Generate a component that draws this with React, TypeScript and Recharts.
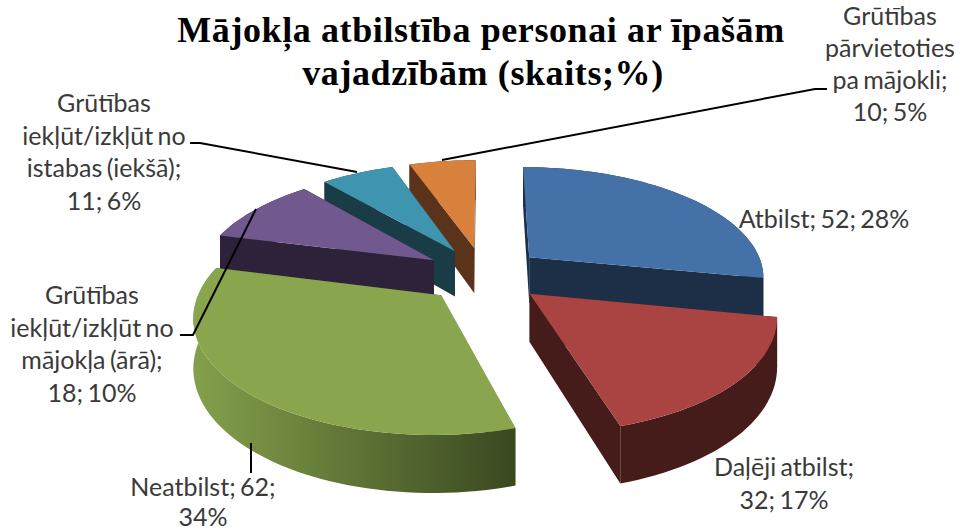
import { Pie, PieChart } from "recharts";

// drawn back to front: the list runs counter-clockwise and starts with Atbilst,
// so that Daļēji atbilst comes last and lies over the blue wall
const categories = [
  "Atbilst",
  "Grūtības pārvietoties pa mājokli",
  "Grūtības iekļūt/izkļūt no istabas (iekšā)",
  "Grūtības iekļūt/izkļūt no mājokļa (ārā)",
  "Neatbilst",
  "Daļēji atbilst",
];
const counts = [52, 10, 11, 18, 62, 32];
const percents = [28, 5, 6, 10, 34, 17];

const labelLines = [
  ["Atbilst; 52; 28%"],
  ["Grūtības", "pārvietoties", "pa mājokli;", "10; 5%"],
  ["Grūtības", "iekļūt/izkļūt no", "istabas (iekšā);", "11; 6%"],
  ["Grūtības", "iekļūt/izkļūt no", "mājokļa (ārā);", "18; 10%"],
  ["Neatbilst; 62;", "34%"],
  ["Daļēji atbilst;", "32; 17%"],
];

const topColors = ["#4472A8", "#D8813C", "#3F95AE", "#71588F", "#89A54E", "#A94442"];
const wallFrom = ["#1C2F47", "#5A331A", "#1A3C46", "#2D2239", "#84A04B", "#451C19"];
const wallTo = ["#1C2F47", "#5A331A", "#1A3C46", "#2D2239", "#3A4820", "#451C19"];

const labelBoxes = [
  { x: 824, y: 228, gap: 32.6 },
  { x: 890, y: 25, gap: 32 },
  { x: 104, y: 112, gap: 32.6 },
  { x: 92, y: 304, gap: 32.6 },
  { x: 203, y: 496, gap: 29.5 },
  { x: 784, y: 476, gap: 32.6 },
];
const leaders = [
  "",
  "M442 160L815 89L827 89",
  "M190 143L200 143L357 172",
  "M256 209L193 335L180 335",
  "M251 443L251 473",
  "",
];

const chartData = categories.map((name, i) => ({
  name,
  value: counts[i],
  percent: percents[i],
}));

const total = counts.reduce((sum, n) => sum + n, 0);
const START_ANGLE = 90 - (360 * counts[0]) / total;

const EXPLODE = 60;
const TILT = 0.465;
const DEPTH = 47;
const CAMERA = 1467;
const RAD = Math.PI / 180;

function SliceShape(props: any) {
  const { cx, cy, outerRadius, startAngle, endAngle, index } = props;
  // recharts angles run ccw from east, here they are cw from the top
  const a0 = 90 - startAngle;
  const a1 = 90 - endAngle;
  const mid = (a0 + a1) / 2;
  const ox = EXPLODE * Math.sin(mid * RAD);
  const oy = EXPLODE * Math.cos(mid * RAD);

  const project = (angle: number, r: number, drop: number) => {
    const wx = ox + r * Math.sin(angle * RAD);
    const wy = oy + r * Math.cos(angle * RAD);
    const s = CAMERA / (CAMERA + wy);
    return `${(cx + wx * s).toFixed(1)} ${(cy - wy * TILT * s + drop * s).toFixed(1)}`;
  };

  const rim: number[] = [];
  const steps = Math.max(4, Math.ceil(Math.abs(a1 - a0) / 2));
  for (let i = 0; i <= steps; i++) rim.push(a0 + ((a1 - a0) * i) / steps);

  const arcTop = rim.map((a) => project(a, outerRadius, 0));
  const arcBottom = rim.map((a) => project(a, outerRadius, DEPTH)).reverse();
  const apex = project(0, 0, 0);
  const apexLow = project(0, 0, DEPTH);
  const gradId = `wall-${index}`;

  return (
    <g>
      <defs>
        <linearGradient id={gradId} x1="0" y1="0" x2="1" y2="0">
          <stop offset="0%" stopColor={wallFrom[index]} />
          <stop offset="100%" stopColor={wallTo[index]} />
        </linearGradient>
      </defs>
      <path
        d={`M${apex}L${arcTop[0]}L${project(a0, outerRadius, DEPTH)}L${apexLow}Z`}
        fill={wallTo[index]}
      />
      <path
        d={`M${apex}L${arcTop[steps]}L${project(a1, outerRadius, DEPTH)}L${apexLow}Z`}
        fill={wallFrom[index]}
      />
      <path d={`M${arcTop.join("L")}L${arcBottom.join("L")}Z`} fill={`url(#${gradId})`} />
      <path d={`M${apex}L${arcTop.join("L")}Z`} fill={topColors[index]} />
    </g>
  );
}

function SliceLabel(props: any) {
  const { index } = props;
  const box = labelBoxes[index];
  return (
    <g>
      {leaders[index] && (
        <path d={leaders[index]} fill="none" stroke="#000" strokeWidth={2} />
      )}
      <text
        fontFamily="Lato, sans-serif"
        fontSize={25}
        wordSpacing={-2}
        fill="#3a3a3a"
        textAnchor="middle"
      >
        {labelLines[index].map((line, i) => (
          <tspan key={i} x={box.x} y={box.y + i * box.gap}>
            {line}
          </tspan>
        ))}
      </text>
    </g>
  );
}

export default function App() {
  return (
    <div style={{ position: "absolute", left: 0, top: 0, width: 959, height: 531, background: "#fff" }}>
      <PieChart width={959} height={531} margin={{ top: 0, right: 0, bottom: 0, left: 0 }}>
        <text
          x={481}
          y={42}
          textAnchor="middle"
          fontFamily="'Liberation Serif', serif"
          fontWeight="bold"
          fontSize={36}
          letterSpacing={0.6}
          fill="#000"
        >
          Mājokļa atbilstība personai ar īpašām
        </text>
        <text
          x={483}
          y={85}
          textAnchor="middle"
          fontFamily="'Liberation Serif', serif"
          fontWeight="bold"
          fontSize={36}
          letterSpacing={0.6}
          fill="#000"
        >
          vajadzībām (skaits;%)
        </text>
        <Pie
          data={chartData}
          dataKey="value"
          nameKey="name"
          cx={484}
          cy={274.5}
          innerRadius={0}
          outerRadius={236}
          startAngle={START_ANGLE}
          endAngle={START_ANGLE + 360}
          stroke="none"
          isAnimationActive={false}
          shape={SliceShape}
          label={SliceLabel}
          labelLine={false}
        />
      </PieChart>
    </div>
  );
}
